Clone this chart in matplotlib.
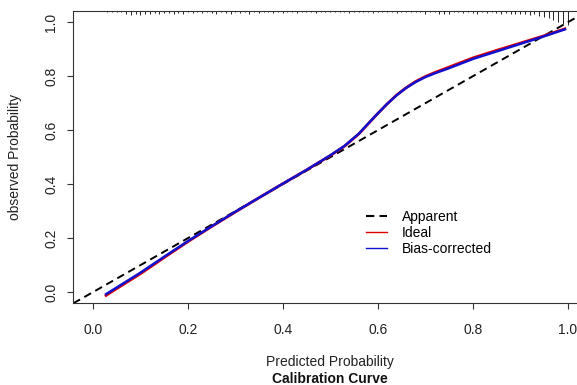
import numpy as np
import matplotlib
matplotlib.use('Agg')
import matplotlib.pyplot as plt

plt.rcParams['font.family'] = ['Liberation Sans', 'DejaVu Sans']

# calibration curves
pred = [0.028, 0.05, 0.10, 0.15, 0.20, 0.25, 0.30, 0.35, 0.40, 0.45, 0.50,
        0.53, 0.56, 0.58, 0.60, 0.62, 0.64, 0.66, 0.68, 0.70, 0.72, 0.75,
        0.80, 0.85, 0.90, 0.95, 0.994]
bias_corr = [-0.007, 0.017, 0.072, 0.131, 0.189, 0.244, 0.298, 0.350, 0.402,
             0.453, 0.507, 0.542, 0.587, 0.625, 0.662, 0.698, 0.730, 0.757,
             0.779, 0.797, 0.811, 0.830, 0.864, 0.892, 0.920, 0.948, 0.974]
ideal = [-0.012, 0.013, 0.068, 0.128, 0.187, 0.243, 0.297, 0.350, 0.402,
         0.453, 0.506, 0.541, 0.586, 0.624, 0.662, 0.698, 0.731, 0.758,
         0.781, 0.799, 0.814, 0.834, 0.868, 0.896, 0.923, 0.950, 0.976]

# rug of predicted values (relative frequency, top of plot)
rug_x = [0.03, 0.04, 0.05, 0.06, 0.07, 0.08, 0.09, 0.10, 0.11, 0.12, 0.13, 0.14,
         0.15, 0.16, 0.17, 0.18, 0.19, 0.20, 0.21, 0.22, 0.23, 0.24, 0.25, 0.26,
         0.27, 0.28, 0.29, 0.30, 0.31, 0.32, 0.33, 0.34, 0.35, 0.36, 0.37, 0.38,
         0.39, 0.40, 0.41, 0.42, 0.43, 0.44, 0.45, 0.46, 0.47, 0.48, 0.49, 0.50,
         0.51, 0.52, 0.53, 0.54, 0.55, 0.56, 0.57, 0.58, 0.59, 0.60, 0.61, 0.62,
         0.63, 0.64, 0.65, 0.66, 0.67, 0.68, 0.69, 0.70, 0.71, 0.72, 0.73, 0.74,
         0.75, 0.76, 0.77, 0.78, 0.79, 0.80, 0.81, 0.82, 0.83, 0.84, 0.85, 0.86,
         0.87, 0.88, 0.89, 0.90, 0.91, 0.92, 0.93, 0.94, 0.95, 0.96, 0.97, 0.98,
         0.99, 1.00]
rug_h = [1.5, 1.5, 1.5, 1.5, 3, 4, 3.5, 4, 3, 3.5, 2, 3,
         2, 2, 3, 2, 3, 1.5, 2, 1.5, 2, 1.5, 2, 3,
         1.5, 2, 3, 1.5, 2, 1.5, 3, 1.5, 2, 1.5, 1.5, 2,
         1.5, 2, 1.5, 1.5, 2, 1.5, 1.5, 1.5, 2, 1.5, 1.5, 1.5,
         1.5, 1.5, 1.5, 2, 1.5, 1.5, 1.5, 1.5, 2, 1.5, 1.5, 1.5,
         1.5, 2, 1.5, 1.5, 1.5, 1.5, 1.5, 3, 1.5, 1.5, 3, 3,
         3, 1.5, 1.5, 2, 1.5, 2, 3, 1.5, 2, 1.5, 2, 3,
         2.5, 3, 3.5, 3, 3.5, 4, 3.5, 5, 6, 7, 9, 11,
         13, 14]

fig = plt.figure(figsize=(5.77, 3.85), dpi=100)
ax = fig.add_axes([73.3 / 577, 1 - 303.3 / 385, (586.7 - 73.3) / 577, (303.3 - 10.7) / 385])

ax.axline((0, 0), (1, 1), color='black', lw=1.4, dashes=(4, 2.5), label='Apparent')
ax.plot(pred, ideal, color='#e00000', lw=2.0, label='Ideal')
ax.plot(pred, bias_corr, color='#1010d0', lw=1.8, label='Bias-corrected')

ytop = 1.043
h = np.array(rug_h) / 270.0
ax.vlines(rug_x, ytop - h, ytop, color='black', lw=0.6)

ax.set_xlim(-0.041, 1.04)
ax.set_ylim(-0.041, ytop)
ax.set_xticks([0.0, 0.2, 0.4, 0.6, 0.8, 1.0])
ax.set_yticks([0.0, 0.2, 0.4, 0.6, 0.8, 1.0])
ax.set_xticklabels(['0.0', '0.2', '0.4', '0.6', '0.8', '1.0'], fontsize=10, color='#222222')
ax.set_yticklabels(['0.0', '0.2', '0.4', '0.6', '0.8', '1.0'], fontsize=10, color='#222222',
                   rotation=90, va='center')
ax.tick_params(axis='x', length=4.5, width=0.8, pad=10, color='#333333')
ax.tick_params(axis='y', length=4.5, width=0.8, pad=6.5, color='#333333')
for s in ax.spines.values():
    s.set_linewidth(0.8)
    s.set_color('#333333')
ax.spines['right'].set_visible(False)

fig.text(330 / 577, 1 - 362 / 385, 'Predicted Probability', ha='center', va='center',
         fontsize=10, color='#222222')
fig.text(330 / 577, 1 - 379 / 385, 'Calibration Curve', ha='center', va='center',
         fontsize=10, fontweight='bold', color='#111111')
fig.text(15 / 577, 1 - 157 / 385, 'observed Probability', ha='center', va='center',
         rotation=90, fontsize=10, color='#222222')

leg = ax.legend(loc='upper left', bbox_to_anchor=(359 / 577, 1 - 203 / 385),
                bbox_transform=fig.transFigure, frameon=False, fontsize=10,
                handlelength=1.5, handletextpad=1.1, labelspacing=0.13, borderpad=0)
for ln in leg.get_lines():
    ln.set_linewidth(1.0)
leg.get_lines()[0].set_linewidth(1.5)

fig.savefig('out.png', dpi=100)
